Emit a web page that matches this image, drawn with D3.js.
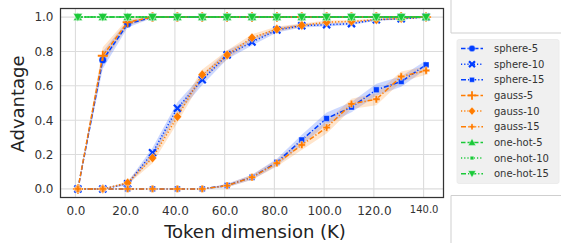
<!DOCTYPE html>
<html><head><meta charset="utf-8">
<script src="https://cdn.jsdelivr.net/npm/d3@7"></script>
<style>
html,body{margin:0;padding:0;background:#fff;}
svg{display:block;font-family:"DejaVu Sans",sans-serif;}
</style></head>
<body><svg id="c" width="561" height="243"></svg>
<script>
// ---- data ----
const xValues = [1, 11, 21, 31, 41, 51, 61, 71, 81, 91, 101, 111, 121, 131, 141];
const xTicks = [0, 20, 40, 60, 80, 100, 120, 140];
const yTicks = [0, 0.2, 0.4, 0.6, 0.8, 1.0];
const seriesNames = ["sphere-5","sphere-10","sphere-15","gauss-5","gauss-10","gauss-15","one-hot-5","one-hot-10","one-hot-15"];

const sphere5  = [0, 0.75, 0.96, 1, 1, 1, 1, 1, 1, 1, 1, 1, 1, 1, 1];
const sphere10 = [0, 0, 0.03, 0.21, 0.47, 0.635, 0.78, 0.855, 0.925, 0.95, 0.955, 0.962, 0.985, 0.99, 1.0];
const sphere15 = [0, 0, 0, 0, 0, 0, 0.02, 0.068, 0.155, 0.285, 0.41, 0.476, 0.577, 0.625, 0.722];
const gauss5   = [0, 0.775, 0.97, 1, 1, 1, 1, 1, 1, 1, 1, 1, 1, 1, 1];
const gauss10  = [0, 0, 0.035, 0.18, 0.42, 0.665, 0.78, 0.88, 0.93, 0.952, 0.97, 0.975, 0.985, 0.992, 1.0];
const gauss15  = [0, 0, 0, 0, 0, 0, 0.019, 0.068, 0.15, 0.256, 0.357, 0.495, 0.522, 0.654, 0.689];
const onehot5  = [1, 1, 1, 1, 1, 1, 1, 1, 1, 1, 1, 1, 1, 1, 1];
const onehot10 = [1, 1, 1, 1, 1, 1, 1, 1, 1, 1, 1, 1, 1, 1, 1];
const onehot15 = [1, 1, 1, 1, 1, 1, 1, 1, 1, 1, 1, 1, 1, 1, 1];

// confidence half-widths
const ci5  = [0, 0.05, 0.02, 0.005, 0, 0, 0, 0, 0, 0, 0, 0, 0, 0, 0];
const ci10 = [0, 0, 0.01, 0.03, 0.035, 0.03, 0.025, 0.02, 0.015, 0.01, 0.01, 0.008, 0.006, 0.005, 0.003];
const ci15 = [0, 0, 0, 0, 0, 0, 0.01, 0.015, 0.02, 0.03, 0.035, 0.03, 0.035, 0.03, 0.025];
const ci0  = [0, 0, 0, 0, 0, 0, 0, 0, 0, 0, 0, 0, 0, 0, 0];

const seriesValues = [sphere5, sphere10, sphere15, gauss5, gauss10, gauss15, onehot5, onehot10, onehot15];
const seriesCI = [ci5, ci10, ci15, ci5, ci10, ci15, ci0, ci0, ci0];

// ---- styles ----
const BLUE = "#023eff", ORANGE = "#ff7c00", GREEN = "#1ac938";
const colors = [BLUE, BLUE, BLUE, ORANGE, ORANGE, ORANGE, GREEN, GREEN, GREEN];
const dashes = ["4.5,2", "1.2,2", "5,2,1.2,2"];
const markers = ["circle","x","square","plus","diamond","cross","triUp","smallSquare","triDown"];

const svg = d3.select("#c");
const L = 60.5, R = 443.5, T = 8.5, B = 197.5;
const x = d3.scaleLinear().domain([-6, 148]).range([L, R]);
const y = d3.scaleLinear().domain([-0.05, 1.05]).range([B, T]);

// grid
const g = svg.append("g");
g.selectAll(".gx").data(xTicks).join("line")
  .attr("x1", d => x(d)).attr("x2", d => x(d)).attr("y1", T).attr("y2", B)
  .attr("stroke", "#dcdcdc").attr("stroke-width", 1.1);
g.selectAll(".gy").data(yTicks).join("line")
  .attr("y1", d => y(d)).attr("y2", d => y(d)).attr("x1", L).attr("x2", R)
  .attr("stroke", "#dcdcdc").attr("stroke-width", 1.1);

// axes
const xAxis = d3.axisBottom(x).tickValues(xTicks).tickSize(0).tickPadding(9)
  .tickFormat(d => d.toFixed(1));
const yAxis = d3.axisLeft(y).tickValues(yTicks).tickSize(0).tickPadding(7)
  .tickFormat(d => d.toFixed(1));
const gx = svg.append("g").attr("transform", `translate(0,${B})`).call(xAxis);
const gy = svg.append("g").attr("transform", `translate(${L},0)`).call(yAxis);
[gx, gy].forEach(a => {
  a.select(".domain").remove();
  a.selectAll("text").attr("fill", "#333").style("font-size", "12px").style("font-family", "DejaVu Sans");
});
gx.selectAll("text").filter(d => d === 140).style("font-size", "10px").attr("dy", "0.6em");

// clip
svg.append("clipPath").attr("id", "clip").append("rect")
  .attr("x", L).attr("y", T).attr("width", R - L).attr("height", B - T);
const plot = svg.append("g").attr("clip-path", "url(#clip)");

// bands
const area = d3.area().x(d => x(d.x)).y0(d => y(d.v - d.c)).y1(d => y(d.v + d.c));
const line = d3.line().x(d => x(d.x)).y(d => y(d.v));
const series = seriesNames.map((n, i) => ({
  name: n, color: colors[i], dash: dashes[i % 3], marker: markers[i],
  pts: xValues.map((xv, j) => ({x: xv, v: seriesValues[i][j], c: seriesCI[i][j]}))
}));
series.forEach(s => {
  plot.append("path").datum(s.pts).attr("d", area)
    .attr("fill", s.color).attr("fill-opacity", 0.2).attr("stroke", "none");
});

function drawMarker(sel, type, color, cx, cy, scale) {
  const k = scale || 1;
  const gm = sel.append("g").attr("transform", `translate(${cx},${cy})`);
  const sym = (t, size) => gm.append("path").attr("d", d3.symbol().type(t).size(size * k * k)())
      .attr("fill", color).attr("stroke", "#fff").attr("stroke-width", 0.4);
  switch (type) {
    case "circle": sym(d3.symbolCircle, 46); break;
    case "square": sym(d3.symbolSquare, 34); break;
    case "smallSquare": sym(d3.symbolSquare, 18); break;
    case "diamond": gm.append("path").attr("d", `M0,${-4.8*k}L${4.2*k},0L0,${4.8*k}L${-4.2*k},0Z`)
      .attr("fill", color).attr("stroke", "#fff").attr("stroke-width", 0.4); break;
    case "cross": sym(d3.symbolCross, 30); break;
    case "triUp": gm.append("path").attr("d", `M0,${-4.5*k}L${4.5*k},${3.5*k}L${-4.5*k},${3.5*k}Z`)
      .attr("fill", color).attr("stroke", "#fff").attr("stroke-width", 0.4); break;
    case "triDown": gm.append("path").attr("d", `M0,${4.5*k}L${4.5*k},${-3.5*k}L${-4.5*k},${-3.5*k}Z`)
      .attr("fill", color).attr("stroke", "#fff").attr("stroke-width", 0.4); break;
    case "x": gm.append("path").attr("d", `M${-3.5*k},${-3.5*k}L${3.5*k},${3.5*k}M${-3.5*k},${3.5*k}L${3.5*k},${-3.5*k}`)
      .attr("stroke", color).attr("stroke-width", 2.2); break;
    case "plus": gm.append("path").attr("d", `M${-5*k},0L${5*k},0M0,${-5*k}L0,${5*k}`)
      .attr("stroke", color).attr("stroke-width", 1.8); break;
  }
}

series.forEach(s => {
  plot.append("path").datum(s.pts).attr("d", line)
    .attr("fill", "none").attr("stroke", s.color).attr("stroke-width", 1.5)
    .attr("stroke-dasharray", s.dash);
  s.pts.forEach(p => drawMarker(plot, s.marker, s.color, x(p.x), y(p.v), 1));
});

// frame
svg.append("rect").attr("x", L).attr("y", T).attr("width", R - L).attr("height", B - T)
  .attr("fill", "none").attr("stroke", "#333").attr("stroke-width", 1.25);

// labels
svg.append("text").attr("x", 255).attr("y", 238).attr("text-anchor", "middle")
  .attr("fill", "#222").style("font-size", "18px").text("Token dimension (K)");
svg.append("text").attr("transform", "translate(24,104) rotate(-90)").attr("text-anchor", "middle")
  .attr("fill", "#222").style("font-size", "18px").text("Advantage");

// neighbouring panel edges
svg.append("path").attr("d", "M451,0V33H561").attr("fill", "none").attr("stroke", "#cfcfcf").attr("stroke-width", 1);
svg.append("path").attr("d", "M451,243V195.5H561").attr("fill", "none").attr("stroke", "#cfcfcf").attr("stroke-width", 1);

// legend
const lg = svg.append("g");
lg.append("rect").attr("x", 457).attr("y", 39.5).attr("width", 102).attr("height", 144)
  .attr("rx", 2).attr("fill", "#f0f0f0").attr("stroke", "#ececec");
series.forEach((s, i) => {
  const yy = 48.5 + i * 15.65;
  lg.append("line").attr("x1", 461).attr("x2", 483).attr("y1", yy).attr("y2", yy)
    .attr("stroke", s.color).attr("stroke-width", 1.5).attr("stroke-dasharray", s.dash);
  drawMarker(lg, s.marker, s.color, 472, yy, 0.85);
  lg.append("text").attr("x", 494).attr("y", yy).attr("dy", "0.35em")
    .attr("fill", "#333").style("font-size", "10px").text(s.name);
});
</script></body></html>
